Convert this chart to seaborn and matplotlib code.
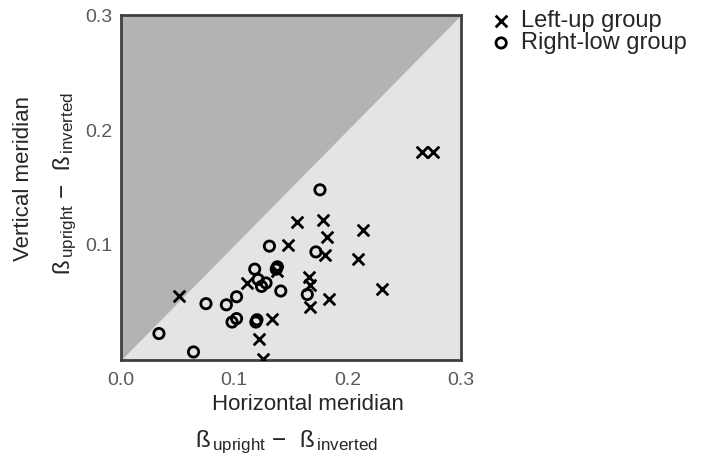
import matplotlib
matplotlib.use('Agg')
import matplotlib.pyplot as plt
import seaborn as sns
import pandas as pd

# Left-up group (x markers)
left_x = [0.051, 0.111, 0.122, 0.125, 0.1335, 0.138, 0.147, 0.155, 0.166, 0.167,
          0.167, 0.178, 0.180, 0.1815, 0.1836, 0.209, 0.214, 0.2306, 0.2654, 0.275]
left_y = [0.056, 0.067, 0.018, 0.001, 0.036, 0.077, 0.100, 0.120, 0.072, 0.065,
          0.046, 0.122, 0.091, 0.107, 0.053, 0.088, 0.113, 0.062, 0.181, 0.181]

# Right-low group (o markers)
right_x = [0.0335, 0.064, 0.075, 0.093, 0.098, 0.102, 0.102, 0.119, 0.120, 0.118,
           0.121, 0.124, 0.128, 0.131, 0.137, 0.138, 0.141, 0.1644, 0.172, 0.1756]
right_y = [0.023, 0.007, 0.049, 0.048, 0.033, 0.036, 0.055, 0.033, 0.035, 0.079,
           0.070, 0.064, 0.067, 0.099, 0.079, 0.081, 0.060, 0.057, 0.094, 0.148]

xticks = [0.0, 0.1, 0.2, 0.3]
yticks = [0.1, 0.2, 0.3]

df_left = pd.DataFrame({'x': left_x, 'y': left_y})
df_right = pd.DataFrame({'x': right_x, 'y': right_y})

sns.set_style('white')
plt.rcParams['font.family'] = ['Liberation Sans', 'DejaVu Sans']
plt.rcParams['mathtext.fontset'] = 'custom'
plt.rcParams['mathtext.rm'] = 'Liberation Sans'
plt.rcParams['mathtext.it'] = 'Liberation Sans'

fig = plt.figure(figsize=(7.18, 4.59), dpi=100)
ax = fig.add_axes([0.1685, 0.2157, 0.4735, 0.7516])

# background: light lower-right, dark upper-left triangle
ax.set_facecolor('#e4e4e4')
ax.fill_between([0, 0.3], [0, 0.3], [0.3, 0.3], color='#b3b3b3', lw=0, zorder=0)

sns.scatterplot(data=df_left, x='x', y='y', marker='x', color='black', s=70,
                linewidth=2, ax=ax, label='Left-up group', zorder=3)
sns.scatterplot(data=df_right, x='x', y='y', marker='o', facecolor='none',
                edgecolor='black', s=55, linewidth=2, ax=ax, label='Right-low group', zorder=3)

ax.set_xlim(0, 0.3)
ax.set_ylim(0, 0.3)
ax.set_xticks(xticks)
ax.set_yticks(yticks)
ax.set_xticklabels(['0.0', '0.1', '0.2', '0.3'])
ax.set_yticklabels(['0.1', '0.2', '0.3'])
ax.tick_params(axis='x', length=0, labelsize=14, labelcolor='#595959', pad=9)
ax.tick_params(axis='y', length=0, labelsize=14, labelcolor='#595959', pad=6)
ax.set_xlabel('')
ax.set_ylabel('')
for sp in ax.spines.values():
    sp.set_color('#404040')
    sp.set_linewidth(2)

# legend outside, top right
leg = fig.legend(loc='center left', bbox_to_anchor=(0.675, 0.93), frameon=False,
                 fontsize=17, handletextpad=0.15, labelspacing=0.0, handlelength=1.4,
                 borderaxespad=0, borderpad=0)
if ax.get_legend():
    ax.get_legend().remove()

sub = r'ß$_{\,\mathrm{upright}}$ $-$  ß$_{\,\mathrm{inverted}}$'
fig.text(0.429, 0.118, 'Horizontal meridian', ha='center', va='center', fontsize=16)
fig.text(0.399, 0.037, sub, ha='center', va='center', fontsize=17.5)
fig.text(0.033, 0.612, 'Vertical meridian', ha='center', va='center', fontsize=16, rotation=90)
fig.text(0.091, 0.601, sub, ha='center', va='center', fontsize=17.5, rotation=90)

fig.savefig('out.png', dpi=100)
